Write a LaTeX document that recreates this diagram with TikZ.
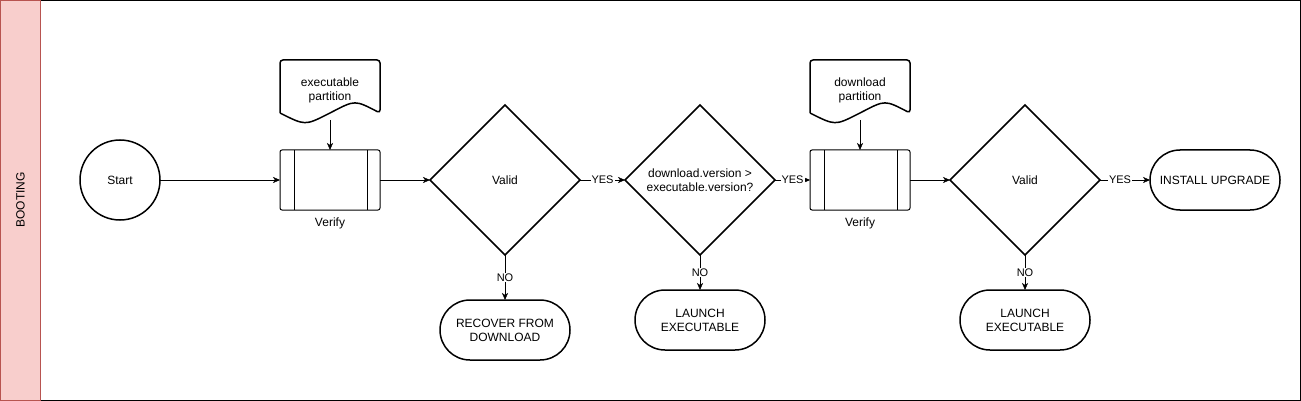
\documentclass[tikz,border=0pt]{standalone}
\usepackage{fontspec}
\setmainfont{Liberation Sans}
\usepackage{xcolor}
\usetikzlibrary{positioning, arrows.meta, shapes.geometric, shapes.misc}
\definecolor{lanefill}{HTML}{F8CECC}
\definecolor{laneline}{HTML}{B85450}

% wavy document outline round a node
\newcommand{\docpath}[1]{%
  \draw[line width=1.5pt, rounded corners=3pt] ([yshift=7pt]#1.south west) -- (#1.north west) -- (#1.north east) -- ([yshift=7pt]#1.south east)
    .. controls ([xshift=-25pt,yshift=20pt]#1.south east) .. ([yshift=7pt]#1.south)
    .. controls ([xshift=25pt,yshift=-5.6pt]#1.south west) .. ([yshift=7pt]#1.south west);}

\begin{document}
\begin{tikzpicture}[x=1pt, y=1pt, font=\fontsize{12pt}{14pt}\selectfont,
    >={Stealth[length=7pt,width=6pt,inset=2pt]},
    startnode/.style={circle, draw, line width=1.5pt, minimum size=80pt, inner sep=0pt, outer sep=0pt},
    verify/.style={draw, line width=1pt, rounded corners=2pt, minimum width=100pt, minimum height=60pt, inner sep=0pt, outer sep=0pt,
        path picture={\draw[line width=1pt] ([xshift=14pt]path picture bounding box.north west) -- ([xshift=14pt]path picture bounding box.south west);
            \draw[line width=1pt] ([xshift=-13pt]path picture bounding box.north east) -- ([xshift=-13pt]path picture bounding box.south east);}},
    docnode/.style={minimum width=100pt, minimum height=60pt, inner sep=0pt, outer sep=0pt, align=center},
    decision/.style={diamond, aspect=1, draw, line width=1.5pt, minimum width=150pt, minimum height=150pt, inner sep=0pt, outer sep=0pt, align=center},
    terminal/.style={rounded rectangle, draw, line width=1.5pt, minimum width=130pt, minimum height=60pt, inner sep=0pt, outer sep=0pt, align=center},
    edgelbl/.style={fill=white, inner sep=1pt, font=\fontsize{11pt}{13pt}\selectfont}]
        \useasboundingbox (0,0) rectangle (1301,-401);
        %\tikzset{edgelbl/.style={midway}}
        \draw[line width=1pt] (0.5,-0.5) rectangle (1300.5,-400.5);
        \filldraw[fill=lanefill, draw=laneline, line width=1pt] (0.5,-0.5) rectangle (40.5,-400.5);
        \node[rotate=90] (lane) at (20.5,-200) {BOOTING};

        \node[startnode] (start) at (120,-180) {Start};
        \node[verify, right=120pt of start] (verA) {};
        \node[below=4pt of verA] (verAtxt) {Verify};
        \node[docnode, above=30pt of verA] (docA) {executable\\partition};
        \docpath{docA}

        \node[decision, right=50pt of verA] (decA) {Valid};
        \node[terminal, below=45pt of decA] (recover) {RECOVER FROM\\DOWNLOAD};
        \node[decision, right=45pt of decA] (decB) {download.version >\\executable.version?};
        \node[terminal, below=35pt of decB] (launchA) {LAUNCH\\EXECUTABLE};

        \node[verify, right=35pt of decB] (verB) {};
        \node[below=4pt of verB] (verBtxt) {Verify};
        \node[docnode, above=30pt of verB] (docB) {download\\partition};
        \docpath{docB}

        \node[decision, right=40pt of verB] (decC) {Valid};
        \node[terminal, below=35pt of decC] (launchB) {LAUNCH\\EXECUTABLE};
        \node[terminal, right=50pt of decC] (install) {INSTALL UPGRADE};


        \draw[->] (start) edge (verA);
        \draw[->] (docA) edge (verA);
        \draw[->] (verA) edge (decA);

        \draw[->] (decA) edge node[edgelbl] {YES} (decB);
        \draw[->] (decA) edge node[edgelbl] {NO} (recover);

        \draw[->] (decB) edge node[edgelbl] {YES} (verB);
        \draw[->] (decB) edge node[edgelbl] {NO} (launchA);

        \draw[->] (docB) edge (verB);
        \draw[->] (verB) edge (decC);

        \draw[->] (decC) edge node[edgelbl, pos=0.4] {YES} (install);
        \draw[->] (decC) edge node[edgelbl] {NO} (launchB);

    \end{tikzpicture}
\end{document}
